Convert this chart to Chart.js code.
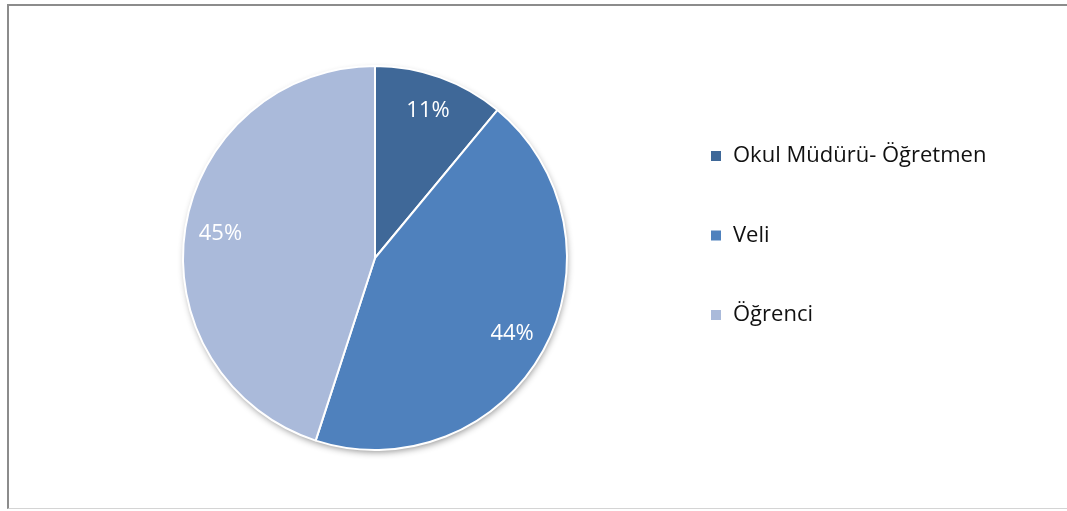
<!DOCTYPE html>
<html>
<head>
<meta charset="utf-8">
<script src="https://cdn.jsdelivr.net/npm/chart.js@4.4.1/dist/chart.umd.min.js"></script>
<style>
  html, body { margin: 0; padding: 0; background: #fff; width: 1067px; height: 511px; overflow: hidden; }
  #frame { position: absolute; left: 7px; top: 4px; width: 1080px; height: 505px;
           border-top: 2px solid #8c8c8c; border-left: 2px solid #8c8c8c; border-bottom: 1px solid #d4d4d4; box-sizing: border-box; }
  #c { position: absolute; left: 0; top: 0; }
</style>
</head>
<body>
<div id="frame"></div>
<canvas id="c" width="1067" height="511"></canvas>
<script>
const categories = ['Okul Müdürü- Öğretmen', 'Veli', 'Öğrenci'];
const values = [11, 44, 45];
const colors = ['#3F6898', '#4F81BD', '#AABADA'];

const FONT_FAMILY = '"Open Sans", Lato, sans-serif';
const LEGEND_SIZE = 22;
const LEGEND_PAD = 57.5;
const BOX = 12;
const BOX_X = 710;       // desired x of legend boxes
const PIE_CX = 375;      // desired pie centre x

// measure widest legend label to place legend / pie
const mctx = document.createElement('canvas').getContext('2d');
mctx.font = LEGEND_SIZE + 'px ' + FONT_FAMILY;
const maxText = Math.max(...categories.map(t => mctx.measureText(t).width));
const itemWidth = BOX + LEGEND_SIZE / 2 + maxText;
const legendLeft = BOX_X - LEGEND_PAD;
const legendRight = legendLeft + LEGEND_PAD + itemWidth + 10;
const padRight = Math.max(0, 1067 - legendRight);
const padLeft = 2 * PIE_CX - legendLeft;

const shadowPlugin = {
  id: 'pieShadow',
  beforeDatasetsDraw(chart) {
    const arc = chart.getDatasetMeta(0).data[0];
    if (!arc) return;
    const { x, y, outerRadius } = arc.getProps(['x', 'y', 'outerRadius'], true);
    const ctx = chart.ctx;
    ctx.save();
    ctx.shadowColor = 'rgba(0,0,0,0.45)';
    ctx.shadowBlur = 7;
    ctx.shadowOffsetX = 1;
    ctx.shadowOffsetY = 3;
    ctx.beginPath();
    ctx.arc(x, y, outerRadius - 1, 0, Math.PI * 2);
    ctx.fillStyle = '#ffffff';
    ctx.fill();
    ctx.restore();
  }
};

const labelPlugin = {
  id: 'pctLabels',
  afterDatasetsDraw(chart) {
    const ctx = chart.ctx;
    const meta = chart.getDatasetMeta(0);
    ctx.save();
    ctx.font = '22px ' + FONT_FAMILY;
    ctx.fillStyle = '#ffffff';
    ctx.textAlign = 'center';
    ctx.textBaseline = 'middle';
    meta.data.forEach((arc, i) => {
      const p = arc.getProps(['x', 'y', 'startAngle', 'endAngle', 'outerRadius'], true);
      const mid = (p.startAngle + p.endAngle) / 2;
      const r = p.outerRadius * 0.815;
      ctx.fillText(values[i] + '%', p.x + Math.cos(mid) * r, p.y + Math.sin(mid) * r);
    });
    ctx.restore();
  }
};

new Chart(document.getElementById('c'), {
  type: 'pie',
  data: {
    labels: categories,
    datasets: [{
      data: values,
      backgroundColor: colors,
      borderColor: '#ffffff',
      borderWidth: 2
    }]
  },
  options: {
    responsive: false,
    animation: false,
    layout: { padding: { left: padLeft, right: padRight, top: 65, bottom: 60 } },
    plugins: {
      tooltip: { enabled: false },
      legend: {
        position: 'right',
        align: 'start',
        title: { display: true, text: ' ', font: { size: 1, lineHeight: 1 }, padding: { top: 21.5, bottom: 0 } },
        labels: {
          boxWidth: BOX,
          boxHeight: BOX,
          padding: LEGEND_PAD,
          color: '#111111',
          font: { family: FONT_FAMILY, size: LEGEND_SIZE }
        }
      }
    }
  },
  plugins: [shadowPlugin, labelPlugin]
});
</script>
</body>
</html>
